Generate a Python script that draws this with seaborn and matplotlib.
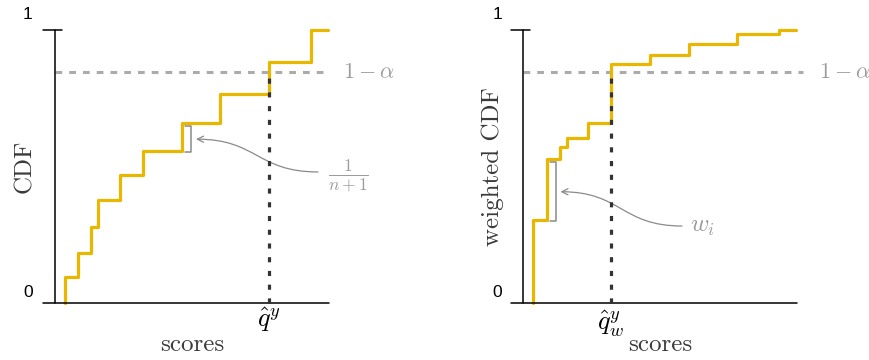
import numpy as np
import pandas as pd
import matplotlib
matplotlib.use("Agg")
import matplotlib.pyplot as plt
import seaborn as sns
from matplotlib.path import Path
from matplotlib.patches import FancyArrowPatch

# ---------------- data ----------------
scores = [1.0, 2.35, 3.65, 4.35, 6.5, 8.8, 12.7, 16.55, 21.4, 25.6]
score_end = 27.3
cdf_plain = [0.095, 0.183, 0.278, 0.377, 0.469, 0.557, 0.659, 0.766, 0.883, 1.0]
cdf_weighted = [0.304, 0.527, 0.571, 0.604, 0.659, 0.875, 0.908, 0.949, 0.985, 1.0]
level = 0.846  # 1 - alpha
y_tick_values = [0, 1]
y_tick_labels = ["0", "1"]
y_labels = ["CDF", "weighted CDF"]
x_label = "scores"
q_labels = [r"$\hat{q}^y$", r"$\hat{q}^y_w$"]
level_label = r"$1-\alpha$"
step_labels = [r"$\frac{1}{n+1}$", r"$w_i$"]
bracket_index = [6, 1]

# ---------------- style ----------------
sns.set_style("white")
plt.rcParams["mathtext.fontset"] = "cm"
plt.rcParams["font.family"] = ["DejaVu Sans"]

YELLOW = "#E9B600"
GREY_LINE = "#ababab"
DARK = "#333333"
TEXT_GREY = "#9c9c9c"
ARROW_GREY = "#8a8a8a"

fig = plt.figure(figsize=(8.7, 3.6), dpi=100)
W, H = 870, 360
ax_px = [(43, 30, 286, 273), (511, 30, 286, 273)]

# per-panel layout (not data)
layout = [
    dict(dash_end=27.4, level_text_x=28.8, tick_x=-2.7, q_y=-0.06,
         arrow_start=(26.3, 0.480), label_xy=(29.3, 0.465), label_ha="center",
         label_size=18),
    dict(dash_end=28.0, level_text_x=29.6, tick_x=-2.6, q_y=-0.075,
         arrow_start=(15.9, 0.282), label_xy=(16.7, 0.282), label_ha="left",
         label_size=18),
]

for i, cdf in enumerate([cdf_plain, cdf_weighted]):
    l, t, w, h = ax_px[i]
    ax = fig.add_axes([l / W, (H - t - h) / H, w / W, h / H])
    L = layout[i]
    for s in ax.spines.values():
        s.set_visible(False)

    # step CDF
    df = pd.DataFrame({
        "score": [scores[0]] + scores + [score_end],
        "cdf": [0.0] + cdf + [cdf[-1]],
    })
    sns.lineplot(data=df, x="score", y="cdf", estimator=None, sort=False,
                 drawstyle="steps-post", color=YELLOW, lw=2.3, ax=ax,
                 clip_on=False, zorder=2)
    ax.set_xlim(-1.2, 27.4)
    ax.set_ylim(0, 1)
    ax.set_xticks([])
    ax.set_yticks([])

    # axes lines
    ax.plot([0, 0], [0, 1], color="black", lw=1.1, clip_on=False, zorder=3)
    ax.axhline(0, color="black", lw=1.1, clip_on=False, zorder=3)
    ax.plot([-1.2, 0.7], [1, 1], color="black", lw=1.1, clip_on=False, zorder=3)

    # tick labels
    for v, lab in zip(y_tick_values, y_tick_labels):
        ax.text(L["tick_x"], v + (0.055 if v == 1 else 0.037), lab,
                ha="center", va="center", fontsize=12.5,
                family="Liberation Sans", color="black", clip_on=False)

    # 1 - alpha level
    ax.plot([0, L["dash_end"]], [level, level], color=GREY_LINE, lw=2.2,
            dashes=(2.2, 2.3), clip_on=False, zorder=1)
    ax.text(L["level_text_x"], level, level_label, ha="left", va="center",
            fontsize=16, color=TEXT_GREY, clip_on=False)

    # quantile
    q = next(s for s, c in zip(scores, cdf) if c >= level)
    ax.plot([q, q], [0, level], color=DARK, lw=2.3, dashes=(1.6, 2.7),
            clip_on=False, zorder=4)
    ax.text(q, L["q_y"], q_labels[i], ha="center", va="center", fontsize=19,
            color="black", clip_on=False)

    # bracket
    j = bracket_index[i]
    bx0, bx1 = scores[j] + 0.3, scores[j] + 0.95
    by0, by1 = cdf[j - 1] - 0.004, cdf[j] - 0.012
    ax.plot([bx0, bx1, bx1, bx0], [by1, by1, by0, by0], color=ARROW_GREY,
            lw=1.1, clip_on=False, zorder=3)

    # arrow
    tip = (bx1 + 0.45, (by0 + by1) / 2)
    sx, sy = L["arrow_start"]
    mx = (sx + tip[0]) / 2
    path = Path([(sx, sy), (mx, sy), (mx, tip[1]), tip],
                [Path.MOVETO, Path.CURVE4, Path.CURVE4, Path.CURVE4])
    arr = FancyArrowPatch(path=path, arrowstyle="->", mutation_scale=11,
                          color=ARROW_GREY, lw=0.9, transform=ax.transData,
                          clip_on=False, zorder=3)
    ax.add_patch(arr)
    ax.text(L["label_xy"][0], L["label_xy"][1], step_labels[i],
            ha=L["label_ha"], va="center", fontsize=L["label_size"],
            color=TEXT_GREY, clip_on=False)

    # axis labels
    ax.set_xlabel(x_label, fontsize=18, family="cmr10", color="#3a3a3a")
    ax.xaxis.set_label_coords(0.521, -0.154)
    ax.xaxis.label.set_va("center")
    ax.xaxis.label.set_visible(True)
    ax.set_ylabel(y_labels[i], fontsize=18, family="cmr10", color="#3a3a3a")
    ax.yaxis.set_label_coords(-0.063, 0.5)
    ax.yaxis.label.set_va("center")
    ax.yaxis.label.set_visible(True)

fig.savefig("out.png", dpi=100)
